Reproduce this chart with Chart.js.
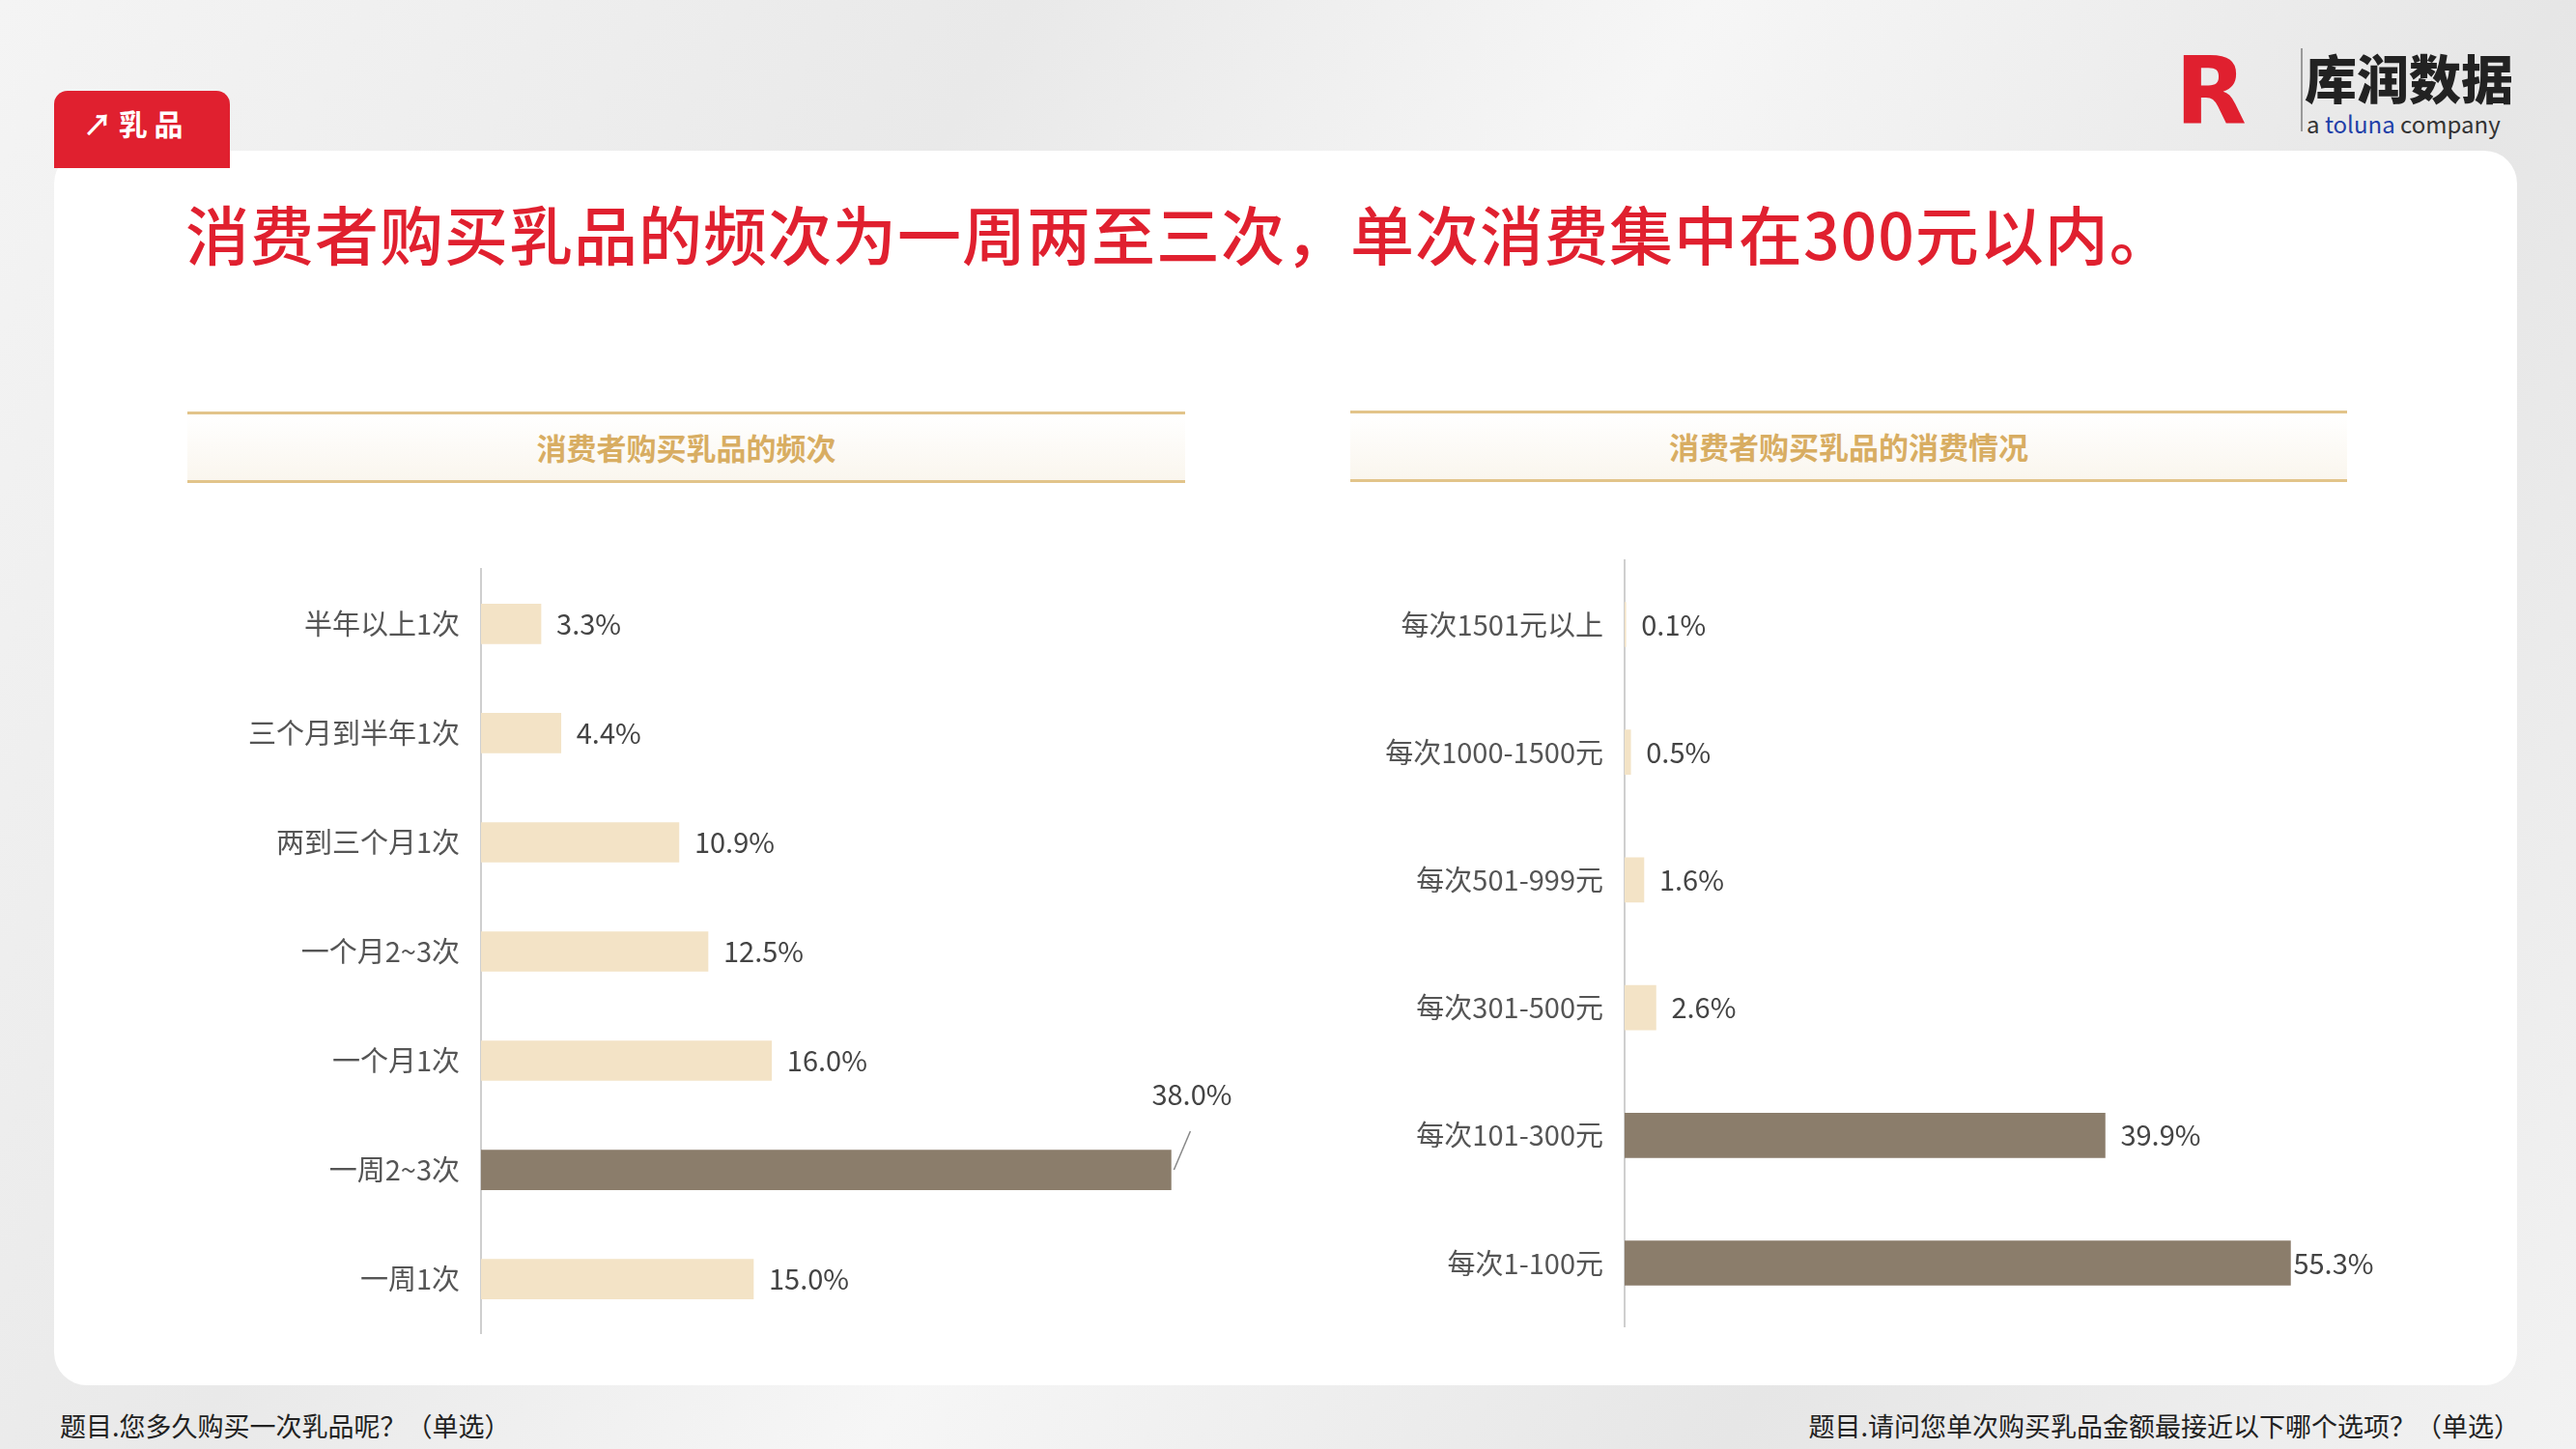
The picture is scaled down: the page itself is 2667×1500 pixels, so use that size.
<!DOCTYPE html>
<html><head><meta charset="utf-8">
<script src="https://cdn.jsdelivr.net/npm/chart.js@4.4.0/dist/chart.umd.min.js"></script>
<style>
body{margin:0;width:2667px;height:1500px;overflow:hidden;font-family:"Noto Sans CJK SC",sans-serif;
background:linear-gradient(120deg,#f4f4f4 0%,#e9e9e9 30%,#f6f6f6 50%,#e6e6e6 75%,#f2f2f2 100%);position:relative}
.card{position:absolute;left:56px;top:156px;width:2550px;height:1278px;background:#fff;border-radius:34px}
.tag{position:absolute;left:56px;top:94px;width:182px;height:80px;background:#e0202f;border-radius:14px 14px 0 0;color:#fff;font-size:30px;line-height:66px;box-sizing:border-box;padding-left:30px;font-weight:bold}
.title{position:absolute;left:192px;top:192px;font-size:66px;color:#e0202f;font-weight:500;letter-spacing:1px}
.hdr{position:absolute;height:68px;border-top:3px solid #e2c48a;border-bottom:3px solid #e2c48a;
background:linear-gradient(#fff,#faf6ee);color:#d8ad62;font-weight:bold;font-size:31px;text-align:center;line-height:68px}
.foot{position:absolute;top:1456px;font-size:27px;color:#222}
.logo{position:absolute;left:2252px;top:50px}
canvas{position:absolute}
</style></head><body>
<div class="card"></div>
<div class="tag">↗ 乳 品</div>
<div class="title">消费者购买乳品的频次为一周两至三次，单次消费集中在300元以内。</div>
<div class="logo">
 <div style="position:absolute;left:0;top:0;font-size:96px;font-weight:900;color:#e0202f;line-height:90px;font-family:'DejaVu Sans'">R</div>
 <div style="position:absolute;left:130px;top:0;width:2px;height:86px;background:#999"></div>
 <div style="position:absolute;left:134px;top:0;font-size:54px;font-weight:900;color:#222;line-height:60px;white-space:nowrap">库润数据</div>
 <div style="position:absolute;left:136px;top:60px;font-size:24px;color:#333;white-space:nowrap">a <span style="color:#1f3fa8">toluna</span> company</div>
</div>
<div class="hdr" style="left:194px;top:426px;width:1033px">消费者购买乳品的频次</div>
<div class="hdr" style="left:1398px;top:425px;width:1032px">消费者购买乳品的消费情况</div>
<canvas id="c1" width="1109" height="854" style="left:221px;top:558px"></canvas>
<canvas id="c2" width="1135" height="856" style="left:1395px;top:549px"></canvas>
<div class="foot" style="left:62px">题目.您多久购买一次乳品呢？（单选）</div>
<div class="foot" style="right:58px">题目.请问您单次购买乳品金额最接近以下哪个选项？（单选）</div>
<script>
const freqLabels = ["半年以上1次","三个月到半年1次","两到三个月1次","一个月2~3次","一个月1次","一周2~3次","一周1次"];
const freqValues = [3.3,4.4,10.9,12.5,16.0,38.0,15.0];
const spendLabels = ["每次1501元以上","每次1000-1500元","每次501-999元","每次301-500元","每次101-300元","每次1-100元"];
const spendValues = [0.1,0.5,1.6,2.6,39.9,55.3];
const LIGHT="#f3e3c6", DARK="#8b7d6b";
const FONT="'Noto Sans CJK SC', sans-serif";

const valLabels={id:"valLabels",afterDatasetsDraw(chart,args,opts){
  const ctx=chart.ctx, meta=chart.getDatasetMeta(0);
  ctx.save();ctx.font="29px "+FONT;ctx.fillStyle="#444";ctx.textBaseline="middle";
  meta.data.forEach((b,i)=>{
    const t=chart.data.datasets[0].data[i].toFixed(1)+"%";
    if(opts.callout===i){
      ctx.strokeStyle="#888";ctx.lineWidth=1.5;ctx.beginPath();
      ctx.moveTo(b.x+3,b.y);ctx.lineTo(b.x+20,b.y-40);ctx.stroke();
      ctx.fillText(t,b.x-20,b.y-78);
    } else ctx.fillText(t,b.x+(opts.tight===i?3:16),b.y);
  });ctx.restore();}};

function makeChart(id,labels,values,max,yw,thick,padR,darkSet){
  new Chart(document.getElementById(id),{type:"bar",
    data:{labels:labels,datasets:[{data:values,barThickness:thick,
      backgroundColor:values.map((v,i)=>darkSet.includes(i)?DARK:LIGHT)}]},
    options:{indexAxis:"y",responsive:false,animation:false,devicePixelRatio:1,
      layout:{padding:{right:padR,top:0,bottom:0}},
      plugins:{legend:{display:false},tooltip:{enabled:false},
        valLabels:{callout:id==="c1"?5:-1,tight:id==="c2"?5:-1}},
      scales:{
        x:{min:0,max:max,display:false},
        y:{afterFit(s){s.width=yw;},grid:{display:false},border:{color:"#cfcfcf",width:2},
           ticks:{color:"#555",font:{size:29,family:FONT},padding:14}}
      }},plugins:[valLabels]});
}
makeChart("c1",freqLabels,freqValues,40,277,41,80,[5]);
makeChart("c2",spendLabels,spendValues,60,287,46,100,[4,5]);
</script>
</body></html>
